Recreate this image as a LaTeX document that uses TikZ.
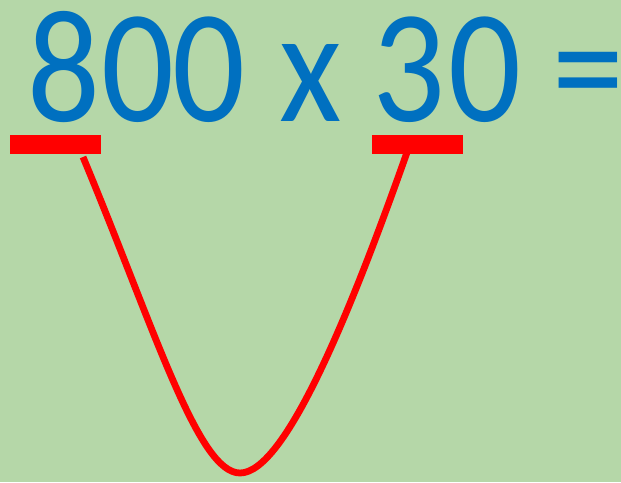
\documentclass[tikz,border=0pt]{standalone}
\usepackage{fontspec}
\setmainfont{Carlito}
\definecolor{bg}{HTML}{B5D7A8}
\definecolor{numblue}{HTML}{0070C0}
\definecolor{mark}{HTML}{FF0000}
\newcommand{\tallch}[1]{\scalebox{1}[1.12]{#1}}
\begin{document}
\begin{tikzpicture}[x=1pt,y=-1pt,
  ch/.style={anchor=base,inner sep=0pt,text=numblue,font=\fontsize{144}{150}\selectfont},
  bar/.style={fill=mark,draw=none},
  curve/.style={draw=mark,line width=6.8pt}]
\fill[bg] (0,0) rectangle (621,482);
\useasboundingbox (0,0) rectangle (621,482);
\node[ch] (d8) at (64.4,121) {\tallch{8}};
\node[ch] (d0a) at (138,121) {\tallch{0}};
\node[ch] (d0b) at (209.3,121) {\tallch{0}};
\node[ch] (times) at (310.8,121) {\tallch{x}};
\node[ch] (d3) at (409,121) {\tallch{3}};
\node[ch] (d0c) at (484.8,121) {\tallch{0}};
\node[ch] (eqsign) at (588.8,121) {\tallch{=}};
\fill[bar] (10,135) rectangle (101,154);
\fill[bar] (372,135) rectangle (463,154);
\coordinate (L) at (83,157);
\coordinate (B) at (240,473);
\coordinate (R) at (411,141);
\draw[curve] (L) .. controls (155,330) and (198,473) .. (B)
  .. controls (285,473) and (350,315) .. (R);
\end{tikzpicture}
\end{document}
